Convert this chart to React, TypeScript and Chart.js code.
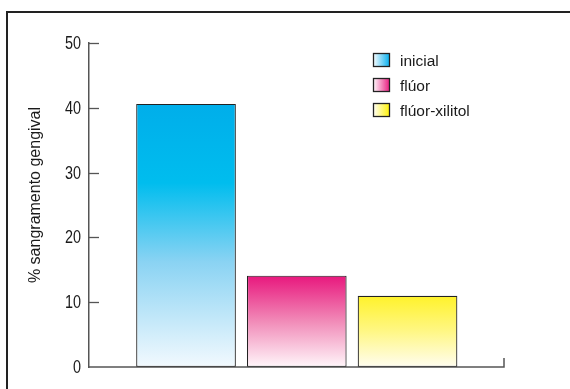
import React, { useEffect, useRef } from 'react';
import { Chart, registerables } from 'chart.js';

Chart.register(...registerables);

// ---- data ----
const categories = ['inicial', 'flúor', 'flúor-xilitol'];
const values = [40.6, 14.1, 11.0];
const positions = [1, 2, 3];
const yTicks = [0, 10, 20, 30, 40, 50];
const yTitle = '% sangramento gengival';

// ---- styles ----
const barStops: [number, string][][] = [
  [[0, '#00aeea'], [0.3, '#00bdee'], [0.6, '#8ad3f3'], [1, '#f2f9fe']],
  [[0, '#e8177d'], [0.5, '#f18bb8'], [1, '#fff6fa']],
  [[0, '#fff22a'], [0.5, '#fff785'], [1, '#fffdf0']],
];
const legendEnd = ['#00aeef', '#e8177d', '#fff200'];
const FONT = "'Liberation Sans', Arial, sans-serif";
const AXIS = '#555555';
const TEXT = '#1a1a1a';

const decorPlugin = {
  id: 'decor',
  afterDraw(chart: any) {
    const { ctx, chartArea } = chart;
    const ys = chart.scales.y;
    ctx.save();
    // x axis line with end tick
    ctx.strokeStyle = AXIS;
    ctx.lineWidth = 1.5;
    ctx.beginPath();
    ctx.moveTo(chartArea.left, chartArea.bottom);
    ctx.lineTo(chartArea.right, chartArea.bottom);
    ctx.lineTo(chartArea.right, chartArea.bottom - 9);
    ctx.stroke();
    // inward y ticks + condensed tick labels
    ys.ticks.forEach((t: any) => {
      const y = ys.getPixelForValue(t.value);
      if (t.value !== 0) {
        ctx.strokeStyle = AXIS;
        ctx.lineWidth = 1.3;
        ctx.beginPath();
        ctx.moveTo(chartArea.left, Math.round(y) + 0.5);
        ctx.lineTo(chartArea.left + 10, Math.round(y) + 0.5);
        ctx.stroke();
      }
      ctx.save();
      ctx.translate(chartArea.left - 8, y + 1);
      ctx.scale(0.8, 1);
      ctx.fillStyle = TEXT;
      ctx.font = `18px ${FONT}`;
      ctx.textAlign = 'right';
      ctx.textBaseline = 'middle';
      ctx.fillText(String(t.value), 0, 0);
      ctx.restore();
    });
    // y title
    ctx.save();
    ctx.fillStyle = TEXT;
    ctx.font = `16px ${FONT}`;
    ctx.textAlign = 'center';
    ctx.textBaseline = 'middle';
    ctx.translate(36, (chartArea.top + chartArea.bottom) / 2 - 10);
    ctx.rotate(-Math.PI / 2);
    ctx.fillText(yTitle, 0, 0);
    ctx.restore();
    // legend
    const bx = chartArea.right - 131;
    categories.forEach((c, i) => {
      const by = chartArea.top + 10 + i * 25;
      const g = ctx.createLinearGradient(bx, 0, bx + 17, 0);
      g.addColorStop(0, '#ffffff');
      g.addColorStop(1, legendEnd[i]);
      ctx.fillStyle = g;
      ctx.fillRect(bx, by, 17, 14);
      ctx.strokeStyle = '#222';
      ctx.lineWidth = 1.3;
      ctx.strokeRect(bx + 0.5, by + 0.5, 16, 13);
      ctx.fillStyle = TEXT;
      ctx.font = `15.5px ${FONT}`;
      ctx.textAlign = 'left';
      ctx.textBaseline = 'alphabetic';
      ctx.fillText(c, bx + 27, by + 13);
    });
    ctx.restore();
  },
};

export default function App() {
  const ref = useRef<HTMLCanvasElement>(null);
  useEffect(() => {
    if (!ref.current) return;
    const datasets = categories.map((c, i) => ({
      label: c,
      data: [{ x: positions[i], y: values[i] }],
      backgroundColor: (ctx: any) => {
        const chart = ctx.chart;
        const ys = chart.scales && chart.scales.y;
        if (!ys || !chart.chartArea || ctx.type !== 'data') return legendEnd[i];
        const top = ys.getPixelForValue(ctx.raw.y);
        const bottom = ys.getPixelForValue(0);
        const g = chart.ctx.createLinearGradient(0, top, 0, bottom);
        barStops[i].forEach(([o, col]) => g.addColorStop(o, col));
        return g;
      },
      borderColor: '#222222',
      borderWidth: 1.2,
      borderSkipped: false,
      barPercentage: 0.9,
      categoryPercentage: 1,
      grouped: false,
    }));
    const chart = new Chart(ref.current, {
      type: 'bar',
      data: { datasets },
      plugins: [decorPlugin],
      options: {
        animation: false,
        responsive: false,
        layout: { padding: { left: 0, right: 66, top: 43, bottom: 22 } },
        plugins: { legend: { display: false }, tooltip: { enabled: false } },
        scales: {
          x: {
            type: 'linear',
            display: false,
            offset: false,
            min: 0.124,
            max: 3.871,
            afterBuildTicks: (scale: any) => {
              scale.ticks = positions.map((v) => ({ value: v }));
            },
          },
          y: {
            type: 'linear',
            min: 0,
            max: 50,
            afterFit: (scale: any) => {
              scale.width = 89;
            },
            afterBuildTicks: (scale: any) => {
              scale.ticks = yTicks.map((v) => ({ value: v }));
            },
            ticks: { display: false },
            grid: { display: false, drawTicks: false },
            border: { display: true, color: AXIS, width: 1.5 },
          },
        },
      },
    } as any);
    return () => chart.destroy();
  }, []);
  return (
    <div style={{ position: 'absolute', left: 0, top: 0, width: 570, height: 389, overflow: 'hidden', background: '#fff' }}>
      <canvas ref={ref} width={570} height={389} style={{ position: 'absolute', left: 0, top: 0 }} />
      <div
        style={{
          position: 'absolute',
          left: 6,
          top: 11,
          width: 700,
          height: 500,
          borderLeft: '2px solid #222',
          borderTop: '2px solid #222',
          pointerEvents: 'none',
        }}
      />
    </div>
  );
}
